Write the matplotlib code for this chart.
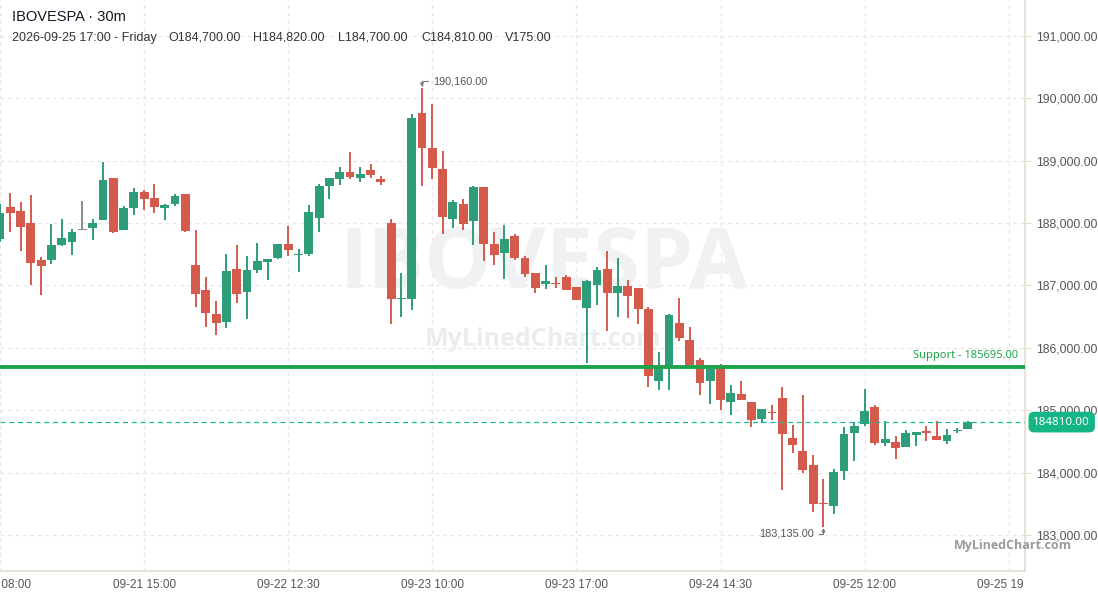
import numpy as np
import matplotlib
matplotlib.use("Agg")
import matplotlib.pyplot as plt
from matplotlib.transforms import Bbox

# ---------------- data ----------------
opens = [187745, 188263, 188193, 188001, 187408, 187408, 187648, 187696, 187899, 187921,
         188049, 188722, 187889, 188241, 188498, 188402, 188241, 188305, 188465, 187327,
         186927, 186542, 186419, 187264, 186900, 187248, 187381, 187445, 187664, 187493,
         187509, 188086, 188599, 188712, 188818, 188728, 188851, 188706, 188001, 186778,
         186783, 189764, 189203, 188867, 188065, 188306, 188033, 188578, 187664, 187520,
         187793, 187440, 187200, 187023, 187039, 187136, 186975, 186639, 187007, 187264,
         186879, 186991, 186959, 186623, 185468, 185709, 186398, 186126, 185805, 185468,
         185725, 185132, 185260, 185132, 184859, 184972, 185196, 184555, 184346, 184122,
         183513, 183464, 184025, 184634, 184779, 185051, 184474, 184490, 184410, 184602,
         184666, 184586, 184506, 184672, 184700]
highs = [188300, 188487, 188337, 188449, 187461, 187985, 188065, 187899, 188354, 188065,
         188979, 188722, 188273, 188562, 188530, 188626, 188305, 188466, 188465, 187888,
         187140, 186751, 187504, 187648, 187472, 187680, 187424, 187664, 187953, 187584,
         188289, 188626, 188722, 188898, 189142, 188899, 188947, 188755, 188065, 187200,
         189748, 190160, 189909, 189155, 188370, 188386, 188594, 188578, 187857, 187969,
         187825, 187472, 187200, 187328, 187136, 187168, 186975, 187087, 187296, 187552,
         187440, 187087, 186959, 186655, 185933, 186542, 186799, 186334, 185837, 185680,
         185741, 185404, 185468, 185132, 185020, 185084, 185372, 184763, 185244, 184282,
         183897, 184057, 184731, 184811, 185340, 185083, 184827, 184586, 184682, 184650,
         184747, 184827, 184698, 184714, 184820]
lows = [187700, 187862, 187557, 187007, 186846, 187343, 187632, 187488, 187890, 187728,
        188049, 187841, 187889, 188129, 188209, 188161, 188049, 188273, 187862, 186660,
        186339, 186206, 186323, 186724, 186468, 187205, 187093, 187424, 187477, 187221,
        187477, 187862, 188386, 188615, 188712, 188664, 188728, 188610, 186382, 186494,
        186607, 188594, 188706, 187825, 187921, 187889, 187648, 187392, 187328, 187104,
        187408, 187136, 186879, 186943, 186959, 186927, 186767, 185757, 186687, 186270,
        186494, 186478, 186382, 185372, 185324, 185324, 186110, 185709, 185244, 185100,
        185004, 184924, 185164, 184731, 184795, 184843, 183721, 184314, 183994, 183369,
        183135, 183336, 183881, 184186, 184747, 184442, 184426, 184218, 184410, 184426,
        184506, 184522, 184458, 184634, 184700]
closes = [188167, 188166, 187942, 187365, 187317, 187648, 187760, 187857, 187899, 188001,
          188690, 187857, 188241, 188498, 188386, 188257, 188289, 188434, 187878, 186863,
          186564, 186403, 187232, 186868, 187248, 187392, 187424, 187664, 187573, 187509,
          188177, 188594, 188722, 188818, 188744, 188787, 188776, 188664, 186783, 186799,
          189684, 189203, 188883, 188097, 188338, 187985, 188578, 187664, 187488, 187745,
          187440, 187184, 186959, 187071, 187023, 186927, 186767, 187071, 187248, 186879,
          186991, 186831, 186623, 185549, 185709, 186526, 186158, 185725, 185436, 185661,
          185164, 185276, 185164, 184843, 185020, 184961, 184619, 184443, 184042, 183497,
          183497, 184009, 184618, 184747, 184987, 184474, 184538, 184394, 184634, 184650,
          184634, 184522, 184602, 184682, 184810]

tick_pos = [-1, 13, 27, 41, 55, 69, 83, 97]
tick_labels = ["09-21 08:00", "09-21 15:00", "09-22 12:30", "09-23 10:00",
               "09-23 17:00", "09-24 14:30", "09-25 12:00", "09-25 19:00"]
price_ticks = [183000, 184000, 185000, 186000, 187000, 188000, 189000, 190000, 191000]

support = 185695
last_price = 184810
high_val, high_idx = 190160, 40
low_val, low_idx = 183135, 79

symbol = "IBOVESPA · 30m"
info_date = "2026-09-25 17:00 - Friday"
info_ohlcv = ["O184,700.00", "H184,820.00", "L184,700.00", "C184,810.00", "V175.00"]

# ---------------- style ----------------
GREEN = "#2e9d7a"
RED = "#d45b4c"
GRAY = "#8a8a8a"
SPINE = "#e3dccf"
GRID = "#e6e6e6"
TXT = "#555555"
FONT = "Liberation Sans"

plt.rcParams["font.family"] = [FONT, "DejaVu Sans"]

W, H = 1098, 597
fig = plt.figure(figsize=(W / 100, H / 100), dpi=100)
ax = fig.add_axes([0.0, 26 / H, 1025 / W, 1 - 26 / H])

x = np.arange(-1, len(opens) - 1)
o = np.array(opens, float)
h = np.array(highs, float)
l = np.array(lows, float)
c = np.array(closes, float)
colors = [GREEN if cc > oo else (RED if cc < oo else GRAY) for oo, cc in zip(o, c)]

ax.vlines(x, l, h, colors=colors, linewidth=1.4, zorder=3)
diff = np.abs(c - o)
thin = diff < 14
body_bottom = np.minimum(o, c) - np.where(thin, 7, 0)
body_h = np.where(thin, 14, diff)
ax.bar(x, body_h, bottom=body_bottom, width=0.86, color=colors, linewidth=0, zorder=4)

ax.set_xlim(-0.746, 98.58)
ax.set_ylim(182423, 191576)

# grid
ax.set_xticks(tick_pos)
ax.set_xticklabels(tick_labels)
ax.set_yticks(price_ticks)
ax.set_yticklabels([f"{v:,.2f}" for v in price_ticks])
ax.grid(True, color=GRID, linestyle=(0, (3, 3)), linewidth=0.9, zorder=0)
ax.set_axisbelow(True)

ax.yaxis.tick_right()
ax.tick_params(axis="y", length=4, color=SPINE, labelsize=8.8, labelcolor=TXT, pad=4)
ax.tick_params(axis="x", length=0, labelsize=8.5, labelcolor=TXT, pad=6)
for side in ["top", "left"]:
    ax.spines[side].set_visible(False)
ax.spines["right"].set_color(SPINE)
ax.spines["bottom"].set_color(SPINE)
ax.spines["right"].set_linewidth(1.2)
ax.spines["bottom"].set_linewidth(1.2)

clip = Bbox.from_extents(0, 0, 1024, H)
for lab in ax.get_xticklabels():
    lab.set_clip_on(True)
    lab.set_clip_box(clip)

# watermark
ax.text(0.53, 0.535, "IBOVESPA", transform=ax.transAxes, ha="center", va="center",
        fontsize=61, fontweight="bold", color="#f0f1f3", family="Open Sans", zorder=1)
ax.text(0.53, 0.405, "MyLinedChart.com", transform=ax.transAxes, ha="center", va="center",
        fontsize=18, fontweight="bold", color="#ececef", family="Open Sans", zorder=1)

# support line
ax.axhline(support, color="#1fa34a", linewidth=2.8, zorder=5)
ax.annotate(f"Support - {support:.2f}", xy=(0.993, support),
            xycoords=("axes fraction", "data"), xytext=(0, 4), textcoords="offset points",
            ha="right", va="bottom", fontsize=8, color="#1fa34a", family="Noto Sans")

# last price line & tag
ax.axhline(last_price, color="#1bb99a", linewidth=0.9, linestyle=(0, (4, 3)), zorder=5)
ax.annotate(f"{last_price:.2f}", xy=(1.0, last_price), xycoords=("axes fraction", "data"),
            xytext=(6, 0), textcoords="offset points", ha="left", va="center",
            fontsize=8.3, fontweight="bold", color="white", family="Noto Sans",
            bbox=dict(boxstyle="round,pad=0.42,rounding_size=0.5", fc="#16b585", ec="none"),
            annotation_clip=False, zorder=10)

# high/low annotations
ax.annotate(f"{high_val:,.2f}", xy=(high_idx, high_val), xytext=(8, 5),
            textcoords="offset points", ha="left", va="center", fontsize=7.8, color=TXT,
            arrowprops=dict(arrowstyle="-|>", color="#777777", lw=0.8, mutation_scale=5,
                            connectionstyle="angle,angleA=180,angleB=90,rad=0",
                            shrinkA=2, shrinkB=1))
ax.annotate(f"{low_val:,.2f}", xy=(low_idx, low_val), xytext=(-7, -5),
            textcoords="offset points", ha="right", va="center", fontsize=7.8, color=TXT,
            arrowprops=dict(arrowstyle="-|>", color="#777777", lw=0.8, mutation_scale=5,
                            connectionstyle="angle,angleA=0,angleB=90,rad=0",
                            shrinkA=2, shrinkB=1))

# header
fig.text(12 / W, 1 - 17 / H, symbol, ha="left", va="center", fontsize=10.5, color="#131722")
fig.text(12 / W, 1 - 38 / H, info_date, ha="left", va="center", fontsize=9, color="#333333")
for xp, t in zip([168, 253, 338, 421, 505], info_ohlcv):
    fig.text(xp / W, 1 - 38 / H, t, ha="left", va="center", fontsize=9, color="#333333")

fig.text(1013 / W, 1 - 545 / H, "MyLinedChart.com", ha="center", va="center",
         fontsize=9, fontweight="bold", color="#9a9a9a", family="Open Sans")

fig.savefig("out.png", dpi=100)
